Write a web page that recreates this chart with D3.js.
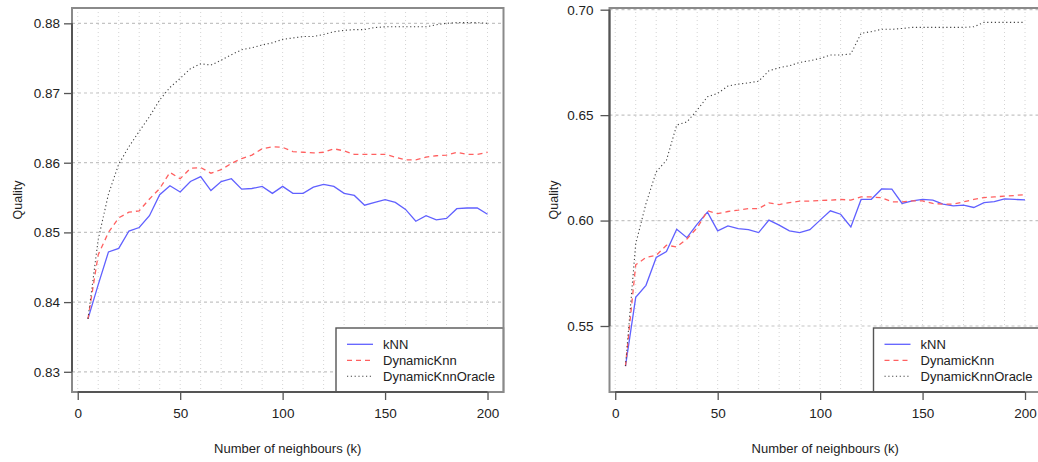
<!DOCTYPE html>
<html>
<head>
<meta charset="utf-8">
<script src="https://cdn.jsdelivr.net/npm/d3@7"></script>
<style>
  body { margin: 0; background: #fff; }
  text { font-family: "Liberation Sans", Arial, sans-serif; fill: #222; }
</style>
</head>
<body>
<div id="chart"></div>
<script>
// number of neighbours
var ks = [5, 10, 15, 20, 25, 30, 35, 40, 45, 50, 55, 60, 65, 70, 75, 80, 85, 90, 95, 100,
          105, 110, 115, 120, 125, 130, 135, 140, 145, 150, 155, 160, 165, 170, 175, 180, 185, 190, 195, 200];

var leftKnn = [0.8376, 0.8425, 0.8472, 0.8477, 0.8502, 0.8507, 0.8524, 0.8554, 0.8567, 0.8558,
               0.8573, 0.8580, 0.8560, 0.8573, 0.8577, 0.8562, 0.8563, 0.8566, 0.8556, 0.8566,
               0.8556, 0.8556, 0.8565, 0.8569, 0.8566, 0.8556, 0.8553, 0.8539, 0.8543, 0.8547,
               0.8543, 0.8533, 0.8516, 0.8524, 0.8518, 0.8520, 0.8534, 0.8535, 0.8535, 0.8526];
var leftDyn = [0.8376, 0.8468, 0.8500, 0.8521, 0.8529, 0.8531, 0.8548, 0.8563, 0.8586, 0.8577,
               0.8592, 0.8593, 0.8585, 0.8590, 0.8599, 0.8606, 0.8611, 0.8620, 0.8623, 0.8622,
               0.8616, 0.8615, 0.8614, 0.8615, 0.8620, 0.8617, 0.8612, 0.8612, 0.8612, 0.8612,
               0.8608, 0.8604, 0.8604, 0.8608, 0.8610, 0.8611, 0.8615, 0.8612, 0.8612, 0.8615];
var leftOracle = [0.8376, 0.8490, 0.8555, 0.8598, 0.8623, 0.8645, 0.8666, 0.8690, 0.8708, 0.8721,
                  0.8735, 0.8742, 0.8740, 0.8747, 0.8755, 0.8762, 0.8765, 0.8769, 0.8772, 0.8777,
                  0.8779, 0.8781, 0.8781, 0.8784, 0.8788, 0.8790, 0.8791, 0.8791, 0.8794, 0.8795,
                  0.8795, 0.8795, 0.8795, 0.8795, 0.8798, 0.8800, 0.8801, 0.8801, 0.8801, 0.8800];

var rightKnn = [0.5310, 0.5636, 0.5693, 0.5825, 0.5853, 0.5959, 0.5919, 0.5983, 0.6040, 0.5951,
                0.5975, 0.5962, 0.5957, 0.5943, 0.6002, 0.5978, 0.5951, 0.5943, 0.5957, 0.6002,
                0.6046, 0.6030, 0.5970, 0.6100, 0.6101, 0.6150, 0.6149, 0.6081, 0.6093, 0.6100,
                0.6097, 0.6078, 0.6070, 0.6073, 0.6062, 0.6085, 0.6090, 0.6103, 0.6100, 0.6098];
var rightDyn = [0.5310, 0.5790, 0.5825, 0.5835, 0.5883, 0.5875, 0.5913, 0.5966, 0.6046, 0.6033,
                0.6043, 0.6049, 0.6057, 0.6057, 0.6084, 0.6076, 0.6085, 0.6092, 0.6092, 0.6095,
                0.6097, 0.6100, 0.6097, 0.6112, 0.6112, 0.6108, 0.6089, 0.6089, 0.6093, 0.6093,
                0.6081, 0.6078, 0.6078, 0.6089, 0.6100, 0.6109, 0.6112, 0.6116, 0.6119, 0.6123];
var rightOracle = [0.5310, 0.5890, 0.6080, 0.6231, 0.6286, 0.6453, 0.6468, 0.6524, 0.6587, 0.6603,
                   0.6638, 0.6647, 0.6653, 0.6661, 0.6710, 0.6725, 0.6734, 0.6750, 0.6758, 0.6769,
                   0.6785, 0.6785, 0.6790, 0.6888, 0.6896, 0.6907, 0.6907, 0.6911, 0.6916, 0.6916,
                   0.6916, 0.6916, 0.6916, 0.6916, 0.6919, 0.6940, 0.6940, 0.6940, 0.6940, 0.6940];

var xTicks = [0, 50, 100, 150, 200];
var xGrid = [0, 10, 20, 30, 40, 50, 60, 70, 80, 90, 100, 110, 120, 130, 140, 150, 160, 170, 180, 190, 200];
var leftYTicks = [0.83, 0.84, 0.85, 0.86, 0.87, 0.88];
var rightYTicks = [0.55, 0.60, 0.65, 0.70];
var seriesNames = ["kNN", "DynamicKnn", "DynamicKnnOracle"];

var width = 1038, height = 462;

var styles = [
    {color: "#6060ff", dash: null, w: 1.3},
    {color: "#ff6060", dash: "5,4", w: 1.3},
    {color: "#444", dash: "1.2,2.6", w: 1.1}
];

var svg = d3.select("#chart").append("svg")
    .attr("width", width)
    .attr("height", height);

function drawPanel(p){
    var x = d3.scaleLinear().domain([-2.8, 207.8]).range([p.left, p.left + 431.5]);
    var y = d3.scaleLinear().domain(p.yDomain).range([392, 8]);
    var g = svg.append("g");

    // light dotted verticals
    g.selectAll(".vgrid")
        .data(xGrid)
        .enter()
        .append("line")
        .attr("x1", d => x(d)).attr("x2", d => x(d))
        .attr("y1", 8).attr("y2", 392)
        .attr("stroke", "#d4d4d4")
        .attr("stroke-dasharray", "1,3");

    // dashed horizontals at the y ticks
    g.selectAll(".hgrid")
        .data(p.yTicks)
        .enter()
        .append("line")
        .attr("x1", x.range()[0]).attr("x2", x.range()[1])
        .attr("y1", d => y(d)).attr("y2", d => y(d))
        .attr("stroke", "#c4c4c4")
        .attr("stroke-width", 1.2)
        .attr("stroke-dasharray", "3,3");

    var line = d3.line()
        .x((d, i) => x(ks[i]))
        .y(d => y(d));

    p.series.forEach(function(s, i){
        g.append("path")
            .datum(s)
            .attr("d", line)
            .attr("fill", "none")
            .attr("stroke", styles[i].color)
            .attr("stroke-width", styles[i].w)
            .attr("stroke-dasharray", styles[i].dash);
    });

    // legend, bottom right
    var lx = x.range()[1] - 167.5;
    var leg = g.append("g");
    leg.append("rect")
        .attr("x", lx).attr("y", 328)
        .attr("width", 167.5).attr("height", 64)
        .attr("fill", "#fff")
        .attr("stroke", "#555")
        .attr("stroke-width", 1.4);
    seriesNames.forEach(function(name, i){
        var ly = 344.3 + i * 16;
        leg.append("line")
            .attr("x1", lx + 11).attr("x2", lx + 37)
            .attr("y1", ly).attr("y2", ly)
            .attr("stroke", styles[i].color)
            .attr("stroke-width", styles[i].w)
            .attr("stroke-dasharray", styles[i].dash);
        leg.append("text")
            .attr("x", lx + 47)
            .attr("y", ly + 4.6)
            .attr("font-size", 13)
            .text(name);
    });

    // frame
    g.append("rect")
        .attr("x", x.range()[0]).attr("y", 8)
        .attr("width", 431.5).attr("height", 384)
        .attr("fill", "none")
        .attr("stroke", "#8a8a8a")
        .attr("stroke-width", 2);

    // y axis, R style (line spans the ticks only)
    var yAxis = g.append("g")
        .attr("transform", "translate(" + x.range()[0] + ",0)")
        .call(d3.axisLeft(y).tickValues(p.yTicks).tickSize(p.tickLen).tickPadding(p.tickPad)
            .tickFormat(d3.format(p.fmt)));
    yAxis.select(".domain").remove();
    yAxis.selectAll("line").attr("stroke", "#555").attr("stroke-width", 1.3);
    yAxis.selectAll("text").attr("font-size", 13.5).attr("fill", "#222")
        .style("font-family", "Liberation Sans, Arial, sans-serif");
    yAxis.append("line")
        .attr("y1", y(p.yTicks[0])).attr("y2", y(p.yTicks[p.yTicks.length - 1]))
        .attr("stroke", "#555").attr("stroke-width", 2);

    var xAxis = g.append("g")
        .attr("transform", "translate(0,392)")
        .call(d3.axisBottom(x).tickValues(xTicks).tickSize(8).tickPadding(8));
    xAxis.select(".domain").remove();
    xAxis.selectAll("line").attr("stroke", "#555").attr("stroke-width", 1.3);
    xAxis.selectAll("text").attr("font-size", 13.5).attr("fill", "#222")
        .style("font-family", "Liberation Sans, Arial, sans-serif");
    xAxis.append("line")
        .attr("x1", x(xTicks[0])).attr("x2", x(xTicks[xTicks.length - 1]))
        .attr("stroke", "#555").attr("stroke-width", 2);

    g.append("text")
        .attr("x", (x.range()[0] + x.range()[1]) / 2)
        .attr("y", 453)
        .attr("text-anchor", "middle")
        .attr("font-size", 13)
        .text("Number of neighbours (k)");

    g.append("text")
        .attr("transform", "translate(" + p.titleX + ",200) rotate(-90)")
        .attr("text-anchor", "middle")
        .attr("font-size", 12.5)
        .text("Quality");
}

drawPanel({left: 72, yDomain: [0.8271, 0.8822], yTicks: leftYTicks, fmt: ".2f",
           tickLen: 8, tickPad: 4, titleX: 22,
           series: [leftKnn, leftDyn, leftOracle]});
drawPanel({left: 609.5, yDomain: [0.5187, 0.7008], yTicks: rightYTicks, fmt: ".2f",
           tickLen: 9, tickPad: 7, titleX: 558,
           series: [rightKnn, rightDyn, rightOracle]});
</script>
</body>
</html>
